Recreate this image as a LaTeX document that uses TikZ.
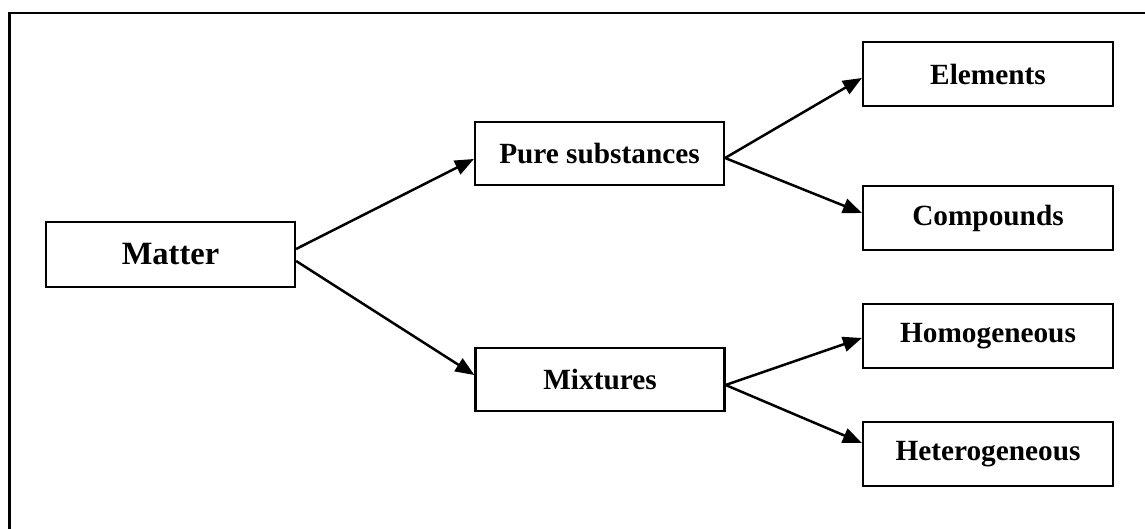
\documentclass[tikz,border=0pt]{standalone}
\usepackage{fontspec}
\setmainfont{Liberation Serif}
\usetikzlibrary{arrows.meta}
\begin{document}
\begin{tikzpicture}[x=1pt,y=1pt,
  box/.style={draw=black, line width=2.2pt, fill=white, inner sep=0pt,
    minimum width=249pt, minimum height=64pt,
    font=\fontsize{29.3}{34}\selectfont\bfseries},
  conn/.style={line width=2.5pt, -{Triangle[length=19pt,width=15pt]}}
]
\useasboundingbox (0,0) rectangle (1145,529);
\draw[line width=2.6pt] (9.5,-20) -- (9.5,516) -- (1170,516);
\node[box, font=\fontsize{32.5}{38}\selectfont\bfseries, minimum height=65pt] (matter) at (170.5,274.5) {Matter};
\node[box, minimum height=63pt] (pure) at (599.5,375.5) {Pure substances};
\node[box, minimum height=63pt] (mix) at (600,149.5) {Mixtures};
\node[box, minimum width=250pt] (elem) at (988,455) {Elements};
\node[box, minimum width=250pt] (comp) at (988,311) {Compounds};
\node[box, minimum width=250pt] (homo) at (988,193) {Homogeneous};
\node[box, minimum width=250pt] (hetero) at (988,75) {Heterogeneous};
\draw[conn] ([yshift=5.5pt]matter.east) -- ([yshift=-5.5pt]pure.west);
\draw[conn] ([yshift=-6.5pt]matter.east) -- ([yshift=4.5pt]mix.west);
\draw[conn] ([yshift=-4.5pt]pure.east) -- ([yshift=-4pt]elem.west);
\draw[conn] ([yshift=-4.5pt]pure.east) -- ([yshift=5pt]comp.west);
\draw[conn] ([yshift=-5.5pt]mix.east) -- ([yshift=-2pt]homo.west);
\draw[conn] ([yshift=-5.5pt]mix.east) -- ([yshift=11pt]hetero.west);
\end{tikzpicture}
\end{document}
